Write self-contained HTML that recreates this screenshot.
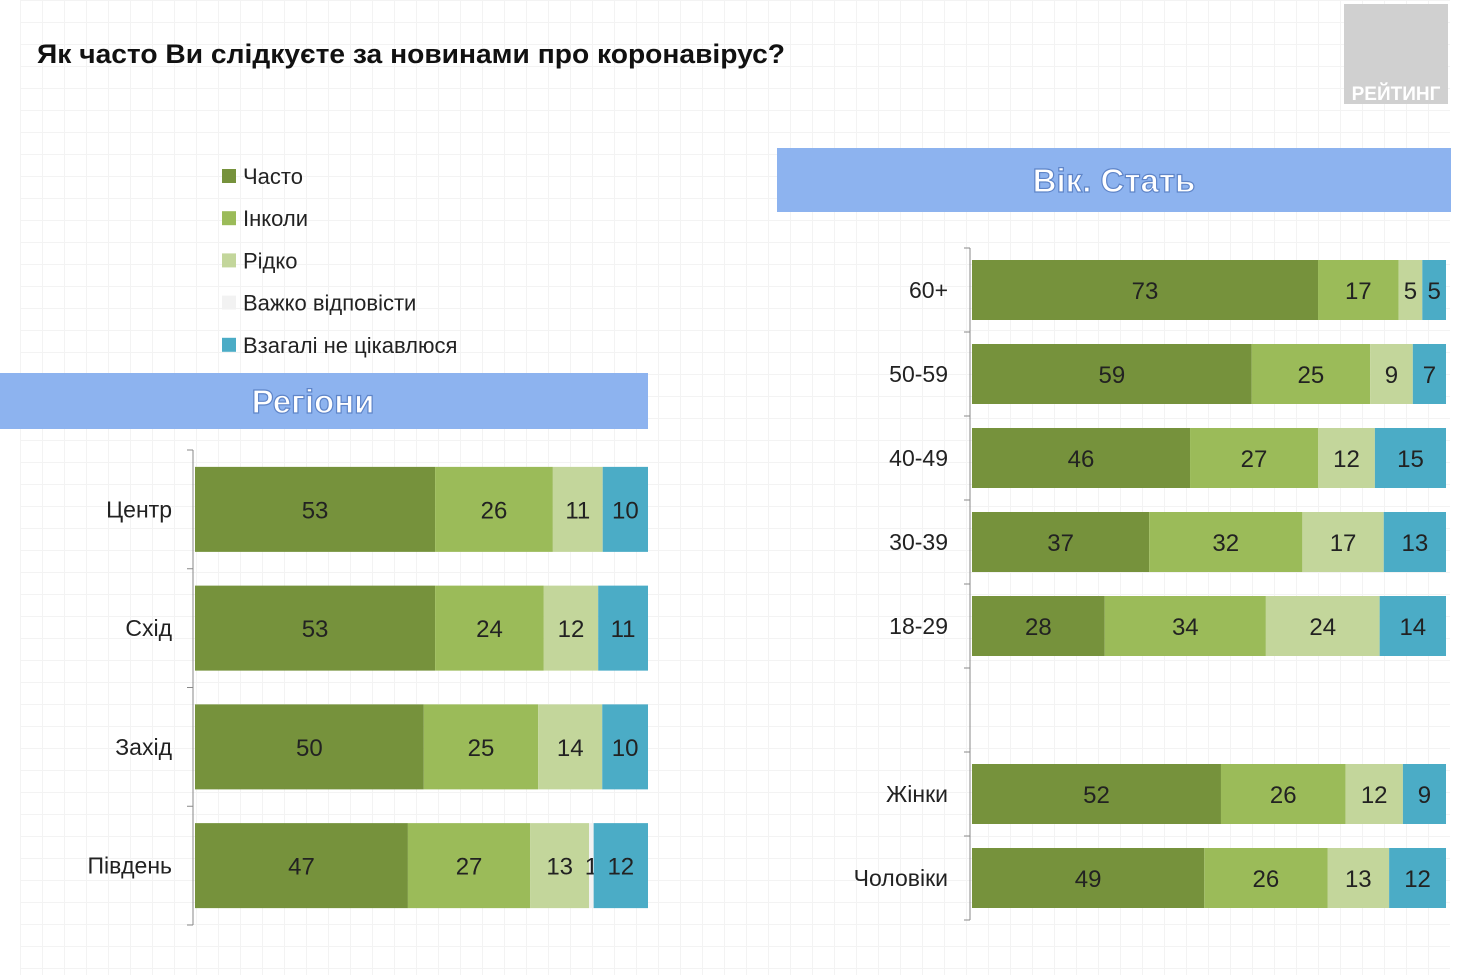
<!DOCTYPE html>
<html><head><meta charset="utf-8"><style>
body{margin:0;width:1472px;height:975px;overflow:hidden;background:#fff;font-family:"Liberation Sans Narrow","Liberation Sans",sans-serif;}
#bg{position:absolute;left:20px;top:0;width:1430px;height:975px;background-image:linear-gradient(#eee 1px,transparent 1px),linear-gradient(90deg,#eee 1px,transparent 1px);background-size:22px 22px;opacity:.7}
svg{position:absolute;left:0;top:0}
</style></head><body>
<div id="bg"></div>
<svg id="c" width="1472" height="975">
<text x="37" y="63" font-family="Liberation Sans" font-weight="bold" font-size="27" fill="#111" textLength="748" lengthAdjust="spacingAndGlyphs">Як часто Ви слідкуєте за новинами про коронавірус?</text>
<rect x="1344" y="4" width="104" height="100" fill="#d0d0d0"/>
<text x="1396" y="100" text-anchor="middle" font-family="Liberation Sans" font-weight="bold" font-size="19" fill="#fff">РЕЙТИНГ</text>
<rect x="0" y="373" width="648" height="56" fill="#8db3ef"/>
<text x="313" y="413" text-anchor="middle" font-family="Liberation Sans" font-weight="900" font-size="33" fill="#fff" stroke="#5f85c8" stroke-width="1.2">Регіони</text>
<rect x="777" y="148" width="674" height="64" fill="#8db3ef"/>
<text x="1114" y="192" text-anchor="middle" font-family="Liberation Sans" font-weight="900" font-size="33" fill="#fff" stroke="#5f85c8" stroke-width="1.2">Вік. Стать</text>
<g id="legend"></g><g id="left"></g><g id="right"></g>
</svg>
<script>
const seriesNames=["Часто","Інколи","Рідко","Важко відповісти","Взагалі не цікавлюся"];
const colors=["#76923c","#9bbb59","#c3d69b","#f2f2f2","#4bacc6"];
const regionCats=["Центр","Схід","Захід","Південь"];
const regionOften=[53,53,50,47];
const regionSometimes=[26,24,25,27];
const regionRarely=[11,12,14,13];
const regionHard=[0,0,0,1];
const regionNever=[10,11,10,12];
const ageCats=["60+","50-59","40-49","30-39","18-29","","Жінки","Чоловіки"];
const ageOften=[73,59,46,37,28,null,52,49];
const ageSometimes=[17,25,27,32,34,null,26,26];
const ageRarely=[5,9,12,17,24,null,12,13];
const ageHard=[0,0,0,0,0,null,0,0];
const ageNever=[5,7,15,13,14,null,9,12];
const NS="http://www.w3.org/2000/svg";
function el(p,t,a){const e=document.createElementNS(NS,t);for(const k in a)e.setAttribute(k,a[k]);p.appendChild(e);return e;}
const lg=document.getElementById('legend');
seriesNames.forEach((n,i)=>{
 const y=176+i*42.2;
 const r=el(lg,'rect',{x:222,y:y-7,width:14,height:14,fill:colors[i]});
 
 
 const t=el(lg,'text',{x:243,y:y+8,'font-size':22,fill:'#222'});t.textContent=n;
 
 
});
function draw(g,cats,series,x0,x1,top,bottom,barH,labelX){
 const n=cats.length,step=(bottom-top)/n;
 const xs=v=>v/100*(x1-x0);
 el(g,'line',{x1:x0-2,x2:x0-2,y1:top,y2:bottom,stroke:'#888'});
 for(let i=0;i<=n;i++)el(g,'line',{x1:x0-8,x2:x0-2,y1:top+i*step,y2:top+i*step,stroke:'#888'});
 cats.forEach((c,i)=>{
  const cy=top+(i+0.5)*step;
  const lt=el(g,'text',{x:labelX,y:cy+8,'text-anchor':'end','font-size':23,fill:'#222'});lt.textContent=c;
  
  
  if(series[0][i]==null)return;
  const tot=series.reduce((s,a)=>s+a[i],0);
  let x=x0;
  series.forEach((a,k)=>{
   const v=a[i];if(!v)return;const w=xs(v)*100/tot;
   const r=el(g,'rect',{x:x,y:cy-barH/2,width:w,height:barH,fill:colors[k]});
   
   
   const t=el(g,'text',{x:x+w/2,y:cy+9,'text-anchor':'middle','font-size':24,fill:'#222'});t.textContent=v;
   
   
   x+=w;
  });
 });
}
draw(document.getElementById('left'),regionCats,[regionOften,regionSometimes,regionRarely,regionHard,regionNever],195,648,450,925,85,172);
draw(document.getElementById('right'),ageCats,[ageOften,ageSometimes,ageRarely,ageHard,ageNever],972,1446,248,920,60,948);
</script>
</body></html>
